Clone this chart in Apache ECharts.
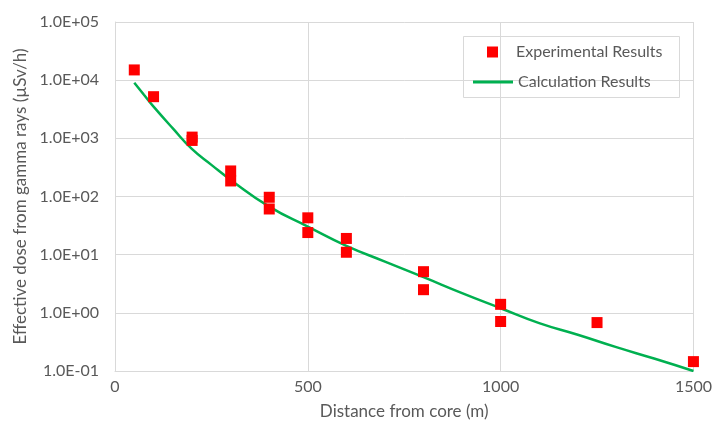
<!DOCTYPE html>
<html>
<head>
<meta charset="utf-8">
<script src="https://cdn.jsdelivr.net/npm/echarts@6/dist/echarts.min.js"></script>
<style>
  html, body { margin: 0; padding: 0; background: #fff; }
  #chart { width: 715px; height: 430px; }
</style>
</head>
<body>
<div id="chart"></div>
<script>
// Measured dose rates (µSv/h) at distances from the core (m)
const expDistance = [50, 100, 200, 200, 300, 300, 400, 400, 500, 500, 600, 600, 800, 800, 1000, 1000, 1250, 1500];
const expDose = [15000, 5200, 1050, 920, 275, 185, 97, 61, 43, 24, 19, 11, 5.1, 2.5, 1.4, 0.71, 0.68, 0.145];

// Calculated dose curve
const calcDistance = [50, 75, 100, 150, 200, 250, 300, 400, 500, 600, 700, 800, 900, 1000, 1100, 1200, 1300, 1400, 1500];
const calcDose = [9000, 5600, 3500, 1480, 650, 350, 193, 67, 30.4, 14.2, 7.6, 4.1, 2.18, 1.2, 0.665, 0.42, 0.257, 0.162, 0.1];

// Axis tick labels
const xTicks = [0, 500, 1000, 1500];
const yTickLabels = ['1.0E-01', '1.0E+00', '1.0E+01', '1.0E+02', '1.0E+03', '1.0E+04', '1.0E+05'];

const FONT = 'Lato';
const TEXT = '#595959';
const GRID = '#d9d9d9';

const chart = echarts.init(document.getElementById('chart'), null, { renderer: 'canvas' });

chart.setOption({
  animation: false,
  backgroundColor: '#fff',
  textStyle: { fontFamily: FONT },
  grid: { left: 115, right: 20, top: 22, bottom: 59 },
  xAxis: {
    type: 'value',
    min: xTicks[0],
    max: xTicks[xTicks.length - 1],
    interval: 500,
    name: 'Distance from core (m)',
    nameLocation: 'middle',
    nameGap: 32,
    nameTextStyle: { fontFamily: FONT, fontSize: 17, color: TEXT },
    axisLine: { show: true, lineStyle: { color: GRID, width: 1 } },
    axisTick: { show: false },
    axisLabel: {
      fontFamily: FONT, fontSize: 16, color: TEXT, margin: 8,
      formatter: function (v) { return String(v); }
    },
    splitLine: { show: true, lineStyle: { color: GRID, width: 1 } }
  },
  yAxis: {
    type: 'log',
    logBase: 10,
    min: 0.1,
    max: 100000,
    name: 'Effective dose from gamma rays (µSv/h)',
    nameLocation: 'middle',
    nameGap: 80,
    nameTextStyle: { fontFamily: FONT, fontSize: 17, color: TEXT },
    axisLine: { show: true, lineStyle: { color: GRID, width: 1 } },
    axisTick: { show: false },
    axisLabel: {
      fontFamily: FONT, fontSize: 16, color: TEXT, margin: 16,
      formatter: function (v) {
        const i = Math.round(Math.log10(v)) + 1;
        return yTickLabels[i] !== undefined ? yTickLabels[i] : '';
      }
    },
    splitLine: { show: true, lineStyle: { color: GRID, width: 1 } }
  },
  legend: [
    {
      data: ['Experimental Results'],
      left: 487, top: 43,
      padding: 0,
      itemWidth: 11, itemHeight: 11,
      icon: 'rect',
      textStyle: { fontFamily: FONT, fontSize: 16, color: TEXT, lineHeight: 18, padding: [0, 0, 0, 13] }
    },
    {
      data: ['Calculation Results'],
      left: 473, top: 73,
      padding: 0,
      itemWidth: 40, itemHeight: 3,
      icon: 'rect',
      textStyle: { fontFamily: FONT, fontSize: 16, color: TEXT, lineHeight: 18 }
    }
  ],
  graphic: [
    {
      type: 'rect',
      left: 463, top: 36,
      shape: { width: 216, height: 61 },
      style: { fill: 'rgba(0,0,0,0)', stroke: GRID, lineWidth: 1 },
      z: 10
    }
  ],
  series: [
    {
      name: 'Calculation Results',
      type: 'line',
      data: calcDistance.map((d, i) => [d, calcDose[i]]),
      showSymbol: false,
      smooth: 0.5,
      lineStyle: { color: '#00B050', width: 2.5 },
      itemStyle: { color: '#00B050' },
      z: 2
    },
    {
      name: 'Experimental Results',
      type: 'scatter',
      data: expDistance.map((d, i) => [d, expDose[i]]),
      symbol: 'rect',
      symbolSize: 11,
      itemStyle: { color: '#FF0000', opacity: 1 },
      z: 3
    }
  ]
});
</script>
</body>
</html>
